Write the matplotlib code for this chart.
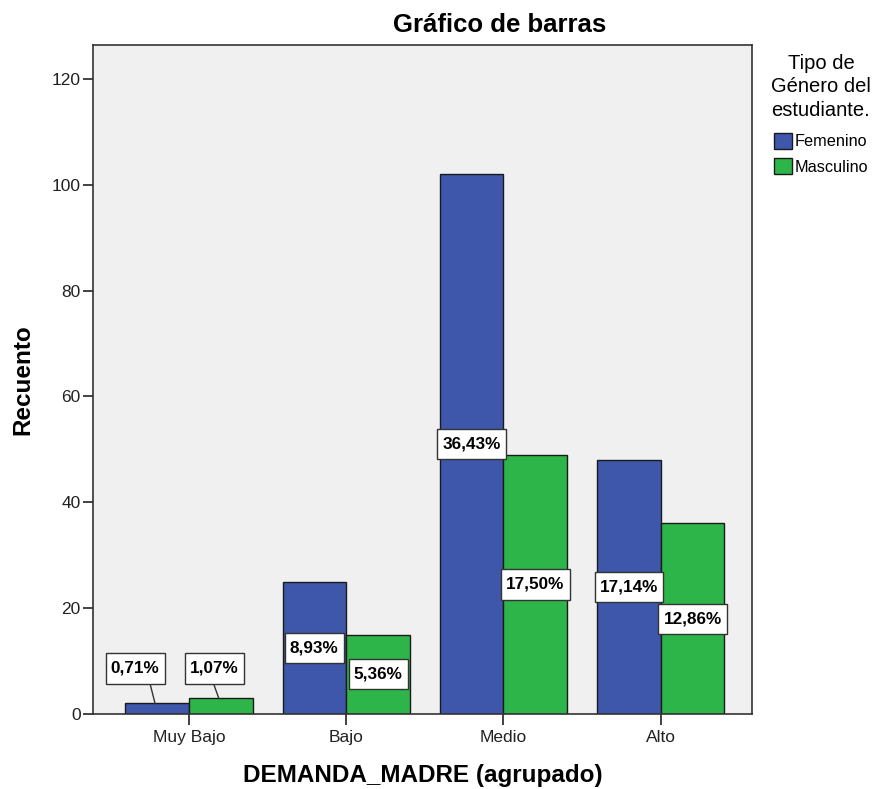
import matplotlib
matplotlib.use("Agg")
import matplotlib.pyplot as plt
import numpy as np
from matplotlib.patches import Patch
from matplotlib.path import Path

categories = ["Muy Bajo", "Bajo", "Medio", "Alto"]
femenino = [2, 25, 102, 48]
masculino = [3, 15, 49, 36]
fem_labels = ["0,71%", "8,93%", "36,43%", "17,14%"]
mas_labels = ["1,07%", "5,36%", "17,50%", "12,86%"]
yticks = [0, 20, 40, 60, 80, 100, 120]

plt.rcParams['font.family'] = ['Liberation Sans', 'DejaVu Sans']

blue = "#3E57AB"
green = "#2DB54A"


def label_box(x0, y0, width, height, mutation_size):
    px = 0.3 * mutation_size
    py = 0.45 * mutation_size
    x0, y0 = x0 - px, y0 - py
    x1, y1 = x0 + width + 2 * px, y0 + height + 2 * py
    return Path([(x0, y0), (x1, y0), (x1, y1), (x0, y1), (x0, y0)], closed=True)


fig = plt.figure(figsize=(8.76, 7.89), dpi=100)
ax = fig.add_axes([93/876, 75/789, 659/876, 669/789])
ax.set_facecolor("#F0F0F0")

x = np.arange(len(categories))
w = 0.405
ax.bar(x - w/2, femenino, w, color=blue, edgecolor="#1a1a1a", linewidth=1, zorder=2)
ax.bar(x + w/2, masculino, w, color=green, edgecolor="#1a1a1a", linewidth=1, zorder=2)

bbox = dict(boxstyle=label_box, fc="white", ec="#333333", lw=1)
small_offsets = {(0, 0): -0.14, (0, 1): -0.04}
for i in range(len(categories)):
    for j, (vals, labs, off) in enumerate(((femenino, fem_labels, -w/2), (masculino, mas_labels, w/2))):
        v = vals[i]
        if v < 5:
            lx = x[i] + off + small_offsets.get((i, j), -0.08)
            ax.plot([x[i] + off - 0.042, x[i] + off - 0.013], [5.4, v],
                    color="#333333", lw=1, zorder=3)
            ax.text(lx, 8.6, labs[i], ha="center", va="center", fontsize=12.3,
                    fontweight="bold", bbox=bbox, zorder=4)
        else:
            ax.text(x[i] + off, v / 2, labs[i], ha="center", va="center",
                    fontsize=12.3, fontweight="bold", bbox=bbox, zorder=4)

ax.set_xlim(-0.61, 3.58)
ax.set_ylim(0, 126.4)
ax.set_yticks(yticks)
ax.set_xticks(x)
ax.set_xticklabels(categories, fontsize=12.5)
ax.tick_params(axis="y", labelsize=12.5, length=7.5, width=1.2, colors="#222222", pad=1.5)
ax.tick_params(axis="x", length=8, width=1.2, colors="#222222", pad=3.5)
for s in ax.spines.values():
    s.set_color("#333333")
    s.set_linewidth(1.2)

fig.text(500/876, 1 - 25/789, "Gráfico de barras", fontsize=18.5, fontweight="bold",
         ha="center", va="center")
ax.set_xlabel("DEMANDA_MADRE (agrupado)", fontsize=17.5, fontweight="bold", labelpad=14)
ax.set_ylabel("Recuento", fontsize=17.5, fontweight="bold", labelpad=12)

handles = [Patch(facecolor=blue, edgecolor="#1a1a1a", label="Femenino"),
           Patch(facecolor=green, edgecolor="#1a1a1a", label="Masculino")]
leg = fig.legend(handles=handles, loc="upper left", bbox_to_anchor=(771/876, 1 - 54/789),
                 title="Tipo de\nGénero del\nestudiante.", frameon=False, fontsize=11.7,
                 title_fontsize=14.5, handlelength=1.15, handleheight=1.15, handletextpad=0.15,
                 labelspacing=0.55, borderaxespad=0, borderpad=0)
leg._legend_box.align = "center"
leg._legend_box.sep = 9
leg.get_title().set_multialignment("center")
leg.get_title().set_linespacing(1.3)

fig.savefig("out.png", dpi=100)
